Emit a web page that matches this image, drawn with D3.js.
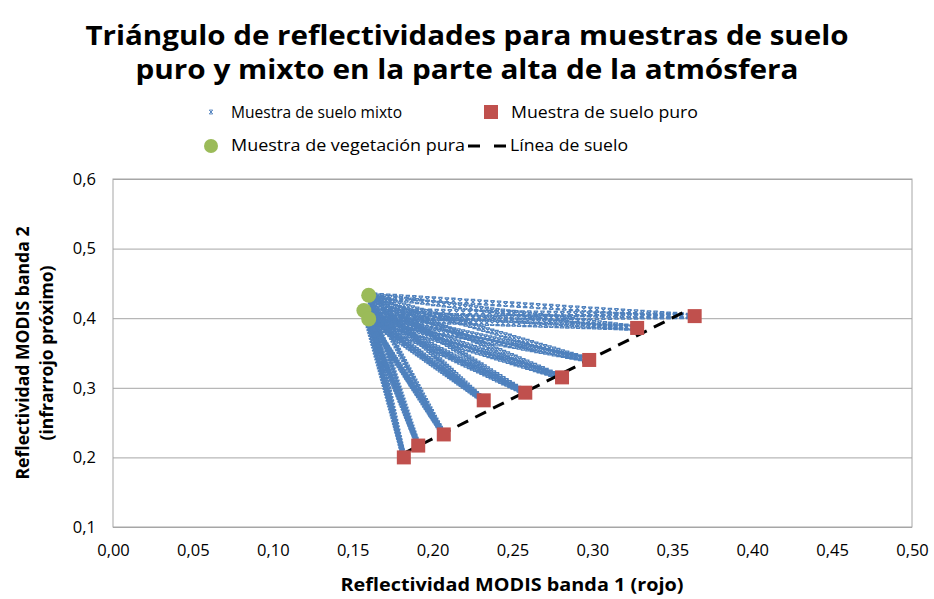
<!DOCTYPE html>
<html>
<head>
<meta charset="utf-8">
<script src="https://cdn.jsdelivr.net/npm/d3@7"></script>
<style>
  body { margin: 0; background: #fff; }
  text { font-family: "Open Sans", "Liberation Sans", sans-serif; fill: #000; }
</style>
</head>
<body>
<script>
// pure soil samples (red = band 1, nir = band 2)
var soilRed = [0.182, 0.191, 0.207, 0.232, 0.258, 0.281, 0.298, 0.328, 0.364];
var soilNir = [0.200, 0.217, 0.233, 0.282, 0.293, 0.315, 0.340, 0.386, 0.403];
// pure vegetation samples
var vegRed = [0.160, 0.157, 0.160];
var vegNir = [0.433, 0.411, 0.399];
// soil line end points
var lineRed = [0.182, 0.360];
var lineNir = [0.206, 0.412];
// vegetation fraction of the mixed samples (each veg x each soil)
var mixFrac = [0.02, 0.04, 0.06, 0.08, 0.10, 0.12, 0.14, 0.16, 0.18, 0.20,
               0.22, 0.24, 0.26, 0.28, 0.30, 0.32, 0.34, 0.36, 0.38, 0.40,
               0.42, 0.44, 0.46, 0.48, 0.50, 0.52, 0.54, 0.56, 0.58, 0.60,
               0.62, 0.64, 0.66, 0.68, 0.70, 0.72, 0.74, 0.76, 0.78, 0.80,
               0.82, 0.84, 0.86, 0.88, 0.90, 0.92, 0.94, 0.96, 0.98];

var xTicks = [0, 0.05, 0.10, 0.15, 0.20, 0.25, 0.30, 0.35, 0.40, 0.45, 0.50];
var yTicks = [0.1, 0.2, 0.3, 0.4, 0.5, 0.6];

var titleLines = ["Triángulo de reflectividades para muestras de suelo",
                  "puro y mixto en la parte alta de la atmósfera"];
var xTitle = "Reflectividad MODIS banda 1 (rojo)";
var yTitle = ["Reflectividad MODIS banda 2", "(infrarrojo próximo)"];

var blue = "#4F81BD", red = "#C0504D", green = "#9BBB59", grid = "#A6A6A6";

var width = 934, height = 599;
var pLeft = 113, pRight = 912, pTop = 179, pBottom = 527;

var svg = d3.select("body").append("svg")
    .attr("width", width)
    .attr("height", height);

var x = d3.scaleLinear().domain([0, 0.5]).range([pLeft, pRight]);
var y = d3.scaleLinear().domain([0.1, 0.6]).range([pBottom, pTop]);

// title
svg.append("g").selectAll("text")
  .data(titleLines)
  .enter().append("text")
  .attr("x", width / 2)
  .attr("y", function(d, i) { return 45 + i * 34; })
  .attr("text-anchor", "middle")
  .style("font-size", "26px")
  .style("font-weight", "bold")
  .attr("textLength", function(d, i) { return i == 0 ? 763 : 663; })
  .attr("lengthAdjust", "spacingAndGlyphs")
  .text(function(d) { return d; });

// gridlines
svg.append("g")
  .attr("transform", "translate(" + pLeft + ",0)")
  .call(d3.axisLeft(y).tickValues(yTicks).tickSize(-(pRight - pLeft)).tickFormat(""))
  .call(function(g) {
    g.select(".domain").remove();
    g.selectAll("line").attr("stroke", grid);
  });

svg.append("rect")
  .attr("x", pLeft).attr("y", pTop)
  .attr("width", pRight - pLeft).attr("height", pBottom - pTop)
  .attr("fill", "none").attr("stroke", grid);

// tick labels
var fmt2 = function(d) { return d3.format(".2f")(d).replace(".", ","); };
var fmt1 = function(d) { return d3.format(".1f")(d).replace(".", ","); };

svg.append("g")
  .attr("transform", "translate(0," + pBottom + ")")
  .call(d3.axisBottom(x).tickValues(xTicks).tickSize(0).tickPadding(17).tickFormat(fmt2))
  .call(function(g) {
    g.select(".domain").remove();
    g.selectAll("text").style("font-size", "16.5px").style("font-family", "Open Sans");
  });

svg.append("g")
  .attr("transform", "translate(" + pLeft + ",0)")
  .call(d3.axisLeft(y).tickValues(yTicks).tickSize(0).tickPadding(17).tickFormat(fmt1))
  .call(function(g) {
    g.select(".domain").remove();
    g.selectAll("text").style("font-size", "16.5px").style("font-family", "Open Sans");
  });

// axis titles
svg.append("text")
  .attr("x", 512).attr("y", 591)
  .attr("text-anchor", "middle")
  .style("font-size", "18px").style("font-weight", "bold")
  .attr("textLength", 343).attr("lengthAdjust", "spacingAndGlyphs")
  .text(xTitle);

svg.append("g").selectAll("text")
  .data(yTitle)
  .enter().append("text")
  .attr("transform", function(d, i) { return "translate(" + (29 + i * 24) + "," + ((pTop + pBottom) / 2) + ") rotate(-90)"; })
  .attr("text-anchor", "middle")
  .style("font-size", "18px").style("font-weight", "bold")
  .attr("textLength", function(d, i) { return i == 0 ? 253 : 175; })
  .attr("lengthAdjust", "spacingAndGlyphs")
  .text(function(d) { return d; });

// mixed samples
var mixed = [];
vegRed.forEach(function(vr, vi) {
  soilRed.forEach(function(sr, si) {
    mixFrac.forEach(function(f) {
      mixed.push({ r: f * vr + (1 - f) * sr, n: f * vegNir[vi] + (1 - f) * soilNir[si] });
    });
  });
});

var xMark = "M-2.2,-2.2L2.2,2.2M2.2,-2.2L-2.2,2.2M-2.2,-2.4L2.2,-2.4M-2.2,2.4L2.2,2.4";

svg.append("g")
  .selectAll("path")
  .data(mixed)
  .enter().append("path")
  .attr("d", xMark)
  .attr("transform", function(d) { return "translate(" + x(d.r) + "," + y(d.n) + ")"; })
  .attr("fill", "none")
  .attr("stroke", blue)
  .attr("stroke-width", 1.3);

// soil line
svg.append("line")
  .attr("x1", x(lineRed[0])).attr("y1", y(lineNir[0]))
  .attr("x2", x(lineRed[1])).attr("y2", y(lineNir[1]))
  .attr("stroke", "#000").attr("stroke-width", 3)
  .attr("stroke-dasharray", "12,8");

// pure soil
svg.append("g")
  .selectAll("rect")
  .data(soilRed)
  .enter().append("rect")
  .attr("x", function(d) { return x(d) - 7; })
  .attr("y", function(d, i) { return y(soilNir[i]) - 7; })
  .attr("width", 14).attr("height", 14)
  .attr("fill", red);

// pure vegetation
svg.append("g")
  .selectAll("circle")
  .data(vegRed)
  .enter().append("circle")
  .attr("cx", function(d) { return x(d); })
  .attr("cy", function(d, i) { return y(vegNir[i]); })
  .attr("r", 7.5)
  .attr("fill", green);

// legend
var leg = svg.append("g").style("font-size", "16px");
leg.append("path").attr("d", xMark).attr("transform", "translate(211,112) scale(0.8)")
  .attr("fill", "none").attr("stroke", blue).attr("stroke-width", 1.2);
leg.append("text").attr("x", 231).attr("y", 118).text("Muestra de suelo mixto")
  .attr("textLength", 171).attr("lengthAdjust", "spacingAndGlyphs");
leg.append("rect").attr("x", 484).attr("y", 105).attr("width", 14).attr("height", 14).attr("fill", red);
leg.append("text").attr("x", 511).attr("y", 118).text("Muestra de suelo puro")
  .attr("textLength", 187).attr("lengthAdjust", "spacingAndGlyphs");
leg.append("circle").attr("cx", 211).attr("cy", 146).attr("r", 7).attr("fill", green);
leg.append("text").attr("x", 231).attr("y", 151).text("Muestra de vegetación pura")
  .attr("textLength", 234).attr("lengthAdjust", "spacingAndGlyphs");
leg.append("line").attr("x1", 468).attr("x2", 506).attr("y1", 146).attr("y2", 146)
  .attr("stroke", "#000").attr("stroke-width", 3).attr("stroke-dasharray", "12,14");
leg.append("text").attr("x", 510).attr("y", 151).text("Línea de suelo")
  .attr("textLength", 118).attr("lengthAdjust", "spacingAndGlyphs");
</script>
</body>
</html>
